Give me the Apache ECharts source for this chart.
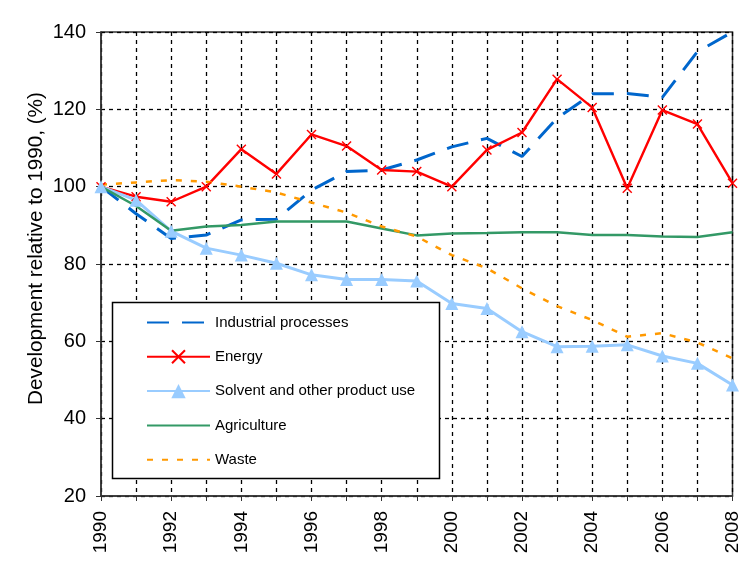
<!DOCTYPE html>
<html>
<head>
<meta charset="utf-8">
<script src="https://cdn.jsdelivr.net/npm/echarts@6/dist/echarts.min.js"></script>
<style>html,body{margin:0;padding:0;background:#fff}#c{width:742px;height:566px}</style>
</head>
<body>
<div id="c"></div>
<script>
var years = ['1990','1991','1992','1993','1994','1995','1996','1997','1998','1999','2000','2001','2002','2003','2004','2005','2006','2007','2008'];
var yTicks = [20, 40, 60, 80, 100, 120, 140];
var industrial = [100, 93, 86.6, 87.5, 91.4, 91.6, 99.1, 103.9, 104.3, 106.9, 110.3, 112.5, 107.8, 117.7, 124, 124.1, 123.1, 134.9, 140];
var energy = [100, 97.4, 96.1, 100, 109.7, 103.3, 113.5, 110.5, 104.3, 103.9, 100, 109.5, 114, 127.8, 120.5, 99.6, 119.8, 116.2, 100.9];
var solvent = [100, 96.5, 88.5, 84.1, 82.3, 80.2, 77.2, 76, 76, 75.6, 69.8, 68.5, 62.5, 58.6, 58.7, 59.1, 56.2, 54.3, 48.7];
var agriculture = [100, 95, 88.6, 89.7, 90.1, 91, 91, 91, 89.2, 87.4, 87.9, 88, 88.2, 88.2, 87.5, 87.5, 87.1, 87, 88.2];
var waste = [100.5, 101.1, 101.7, 101.3, 100, 98.5, 95.9, 93.3, 89.7, 87.1, 82.3, 78.9, 73.7, 69.1, 65.5, 61.2, 62.1, 59.7, 55.6];
var names = ['Industrial processes', 'Energy', 'Solvent and other product use', 'Agriculture', 'Waste'];
var yTitle = 'Development relative to 1990, (%)';

var chart = echarts.init(document.getElementById('c'), null, {renderer: 'canvas'});
var xPath = 'path://M0,1L1,0L5,4L9,0L10,1L6,5L10,9L9,10L5,6L1,10L0,9L4,5Z';
var font = 'Liberation Sans, Arial, sans-serif';
var hidden = {opacity: 0};
chart.setOption({
  animation: false,
  backgroundColor: '#fff',
  grid: {left: 101, right: 6, top: 32, bottom: 70, show: true, borderColor: '#333', borderWidth: 1.5},
  xAxis: {
    type: 'category', data: years, boundaryGap: false,
    axisLine: {lineStyle: {color: '#333', width: 1.5}},
    axisTick: {show: true, interval: 0, inside: false, length: 5, lineStyle: {color: '#333'}},
    axisLabel: {interval: 1, rotate: 90, color: '#000', fontSize: 19, fontFamily: font, margin: 15},
    splitLine: {show: true, interval: 0, lineStyle: {color: '#000', type: [4, 4], width: 1.3}}
  },
  yAxis: {
    type: 'value', min: yTicks[0], max: yTicks[yTicks.length - 1], interval: 20,
    axisLine: {show: true, lineStyle: {color: '#333', width: 1.5}},
    axisTick: {show: true, length: 5, lineStyle: {color: '#333'}},
    axisLabel: {color: '#000', fontSize: 20, fontFamily: font, margin: 15},
    splitLine: {show: true, lineStyle: {color: '#000', type: [4, 4], width: 1.3}}
  },
  graphic: {
    elements: [
      {type: 'rect', z: 3, shape: {x: 112.5, y: 302.5, width: 327, height: 176}, style: {fill: '#fff', stroke: '#000', lineWidth: 1.5}},
      {type: 'text', z: 3, x: 36, y: 248.5, rotation: Math.PI / 2,
       style: {text: yTitle, fill: '#000', font: '20.7px Liberation Sans, Arial, sans-serif', textAlign: 'center', textVerticalAlign: 'middle'}}
    ]
  },
  legend: {
    z: 5, orient: 'vertical', left: 141, top: 310, itemWidth: 63, itemHeight: 18, itemGap: 19.3,
    data: [
      {name: names[0], itemStyle: hidden},
      {name: names[1]},
      {name: names[2]},
      {name: names[3], itemStyle: hidden},
      {name: names[4], itemStyle: hidden}
    ],
    textStyle: {color: '#000', fontSize: 15, fontFamily: font}
  },
  series: [
    {name: names[0], type: 'line', data: industrial, symbol: 'none', z: 2,
     lineStyle: {color: '#0066CC', width: 3, type: [22, 13]}, itemStyle: {color: '#0066CC'}},
    {name: names[1], type: 'line', data: energy, symbol: xPath, symbolSize: 10, showSymbol: true, z: 2,
     lineStyle: {color: '#FF0000', width: 2.4}, itemStyle: {color: '#FF0000'}},
    {name: names[2], type: 'line', data: solvent, symbol: 'triangle', symbolSize: 13, z: 2,
     lineStyle: {color: '#99CCFF', width: 3}, itemStyle: {color: '#99CCFF'}},
    {name: names[3], type: 'line', data: agriculture, symbol: 'none', z: 2,
     lineStyle: {color: '#339966', width: 2.5}, itemStyle: {color: '#339966'}},
    {name: names[4], type: 'line', data: waste, symbol: 'none', z: 2,
     lineStyle: {color: '#FF9900', width: 2.5, type: [6, 9]}, itemStyle: {color: '#FF9900'}}
  ]
});
</script>
</body>
</html>
